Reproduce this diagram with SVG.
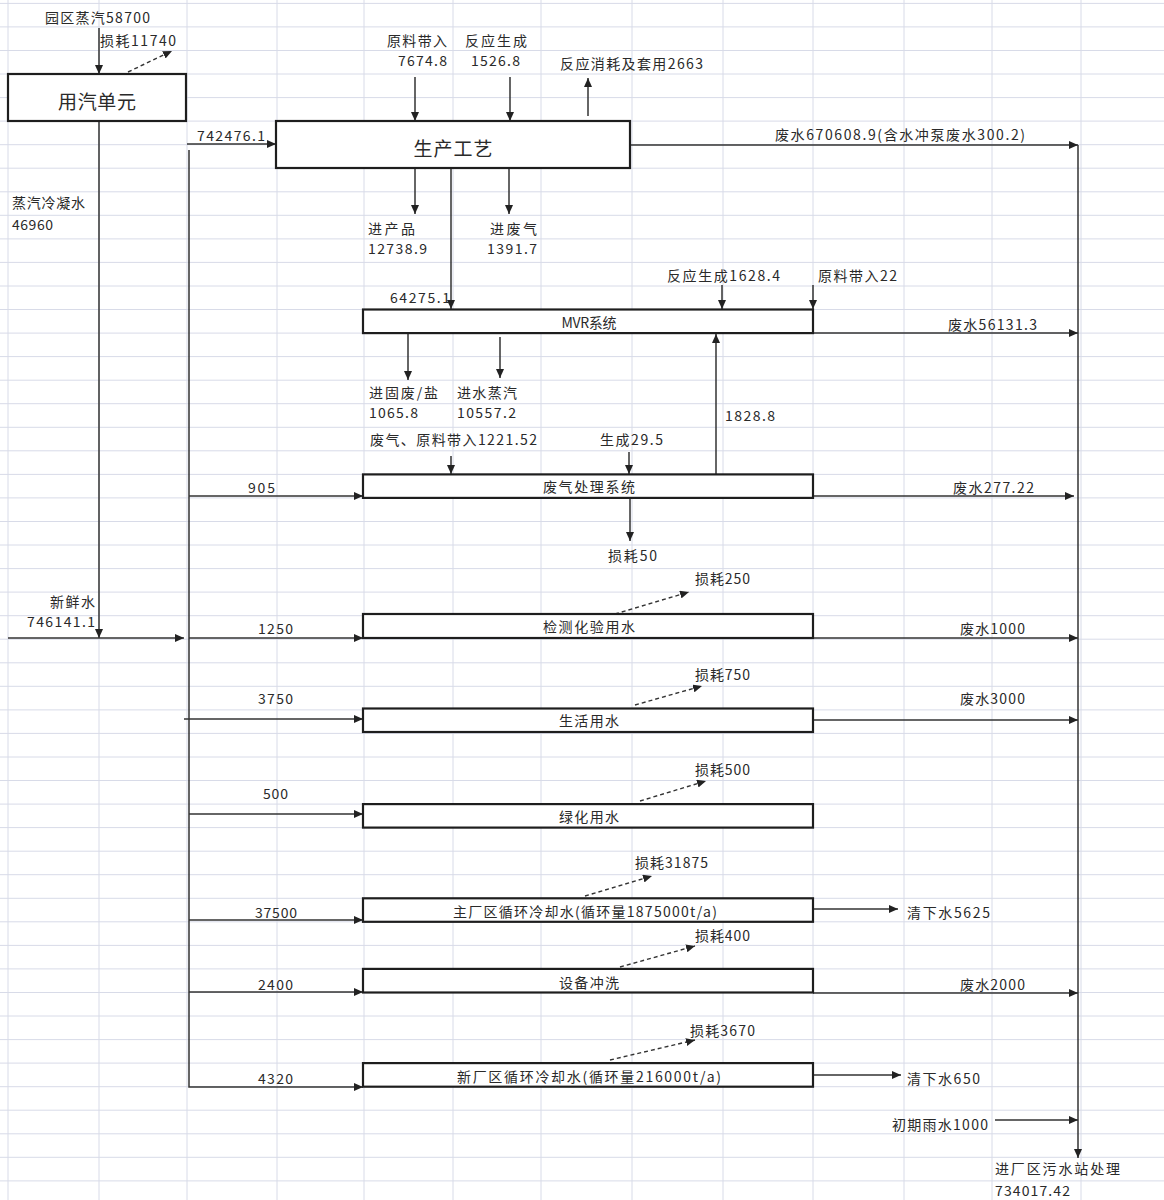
<svg xmlns="http://www.w3.org/2000/svg" width="1164" height="1200" viewBox="0 0 1164 1200">
<style>
.grid{stroke:#d8dbe8;stroke-width:1;fill:none}
.box{fill:#fff;stroke:#1e1e1e;stroke-width:2.2}
.ln{stroke:#333;stroke-width:1.5;fill:none}
.dash{stroke:#333;stroke-width:1.4;fill:none;stroke-dasharray:4 3}
.t{font-family:"Noto Sans CJK SC","Noto Sans",sans-serif;font-size:14px;fill:#2a2a2a;dominant-baseline:central}
.bt{font-family:"Noto Sans CJK SC","Noto Sans",sans-serif;font-size:14px;fill:#2a2a2a;dominant-baseline:central;text-anchor:middle}
.big{font-size:19px}
</style>
<defs>
<marker id="ah" markerWidth="9" markerHeight="8" refX="9" refY="4" orient="auto" markerUnits="userSpaceOnUse"><path d="M0,0 L9,4 L0,8 z" fill="#222"/></marker>
</defs>
<rect x="0" y="0" width="1164" height="1200" fill="#fff"/>
<g id="grid" class="grid">
<path d="M0 3.4H1164M0 26.9H1164M0 50.5H1164M0 74H1164M0 97.6H1164M0 121.1H1164M0 144.7H1164M0 168.2H1164M0 191.8H1164M0 215.3H1164M0 238.9H1164M0 262.4H1164M0 286H1164M0 309.5H1164M0 333.1H1164M0 356.6H1164M0 380.2H1164M0 403.7H1164M0 427.3H1164M0 450.8H1164M0 474.4H1164M0 497.9H1164M0 521.5H1164M0 545H1164M0 568.6H1164M0 592.1H1164M0 615.7H1164M0 639.2H1164M0 662.8H1164M0 686.3H1164M0 709.9H1164M0 733.4H1164M0 757H1164M0 780.5H1164M0 804.1H1164M0 827.6H1164M0 851.2H1164M0 874.7H1164M0 898.3H1164M0 921.8H1164M0 945.4H1164M0 968.9H1164M0 992.5H1164M0 1016H1164M0 1039.6H1164M0 1063.1H1164M0 1086.7H1164M0 1110.2H1164M0 1133.8H1164M0 1157.3H1164M0 1180.9H1164"/>
<path d="M8 0V1200M99 0V1200M187 0V1200M277 0V1200M364 0V1200M453 0V1200M541 0V1200M632 0V1200M723 0V1200M813 0V1200M904 0V1200M992 0V1200M1081 0V1200"/>
</g>
<g id="connectors">
<path class="ln" d="M99,28 V74" marker-end="url(#ah)"/>
<path class="dash" d="M128,72 L172,51" marker-end="url(#ah)"/>
<path class="ln" d="M99,121 V638" marker-end="url(#ah)"/>
<path class="ln" d="M8,638 H184" marker-end="url(#ah)"/>
<path class="ln" d="M189,150 V1087 H363" marker-end="url(#ah)"/>
<path class="ln" d="M187,144 H276" marker-end="url(#ah)"/>
<path class="ln" d="M189,496 H363" marker-end="url(#ah)"/>
<path class="ln" d="M189,638 H363" marker-end="url(#ah)"/>
<path class="ln" d="M184,719 H363" marker-end="url(#ah)"/>
<path class="ln" d="M189,814 H363" marker-end="url(#ah)"/>
<path class="ln" d="M189,920 H363" marker-end="url(#ah)"/>
<path class="ln" d="M189,992 H363" marker-end="url(#ah)"/>
<path class="ln" d="M415,77 V121" marker-end="url(#ah)"/>
<path class="ln" d="M510,77 V121" marker-end="url(#ah)"/>
<path class="ln" d="M588,116 V78" marker-end="url(#ah)"/>
<path class="ln" d="M630,145 H1078" marker-end="url(#ah)"/>
<path class="ln" d="M415,168 V214" marker-end="url(#ah)"/>
<path class="ln" d="M509,168 V214" marker-end="url(#ah)"/>
<path class="ln" d="M451,168 V309" marker-end="url(#ah)"/>
<path class="ln" d="M722,285 V309" marker-end="url(#ah)"/>
<path class="ln" d="M813,285 V309" marker-end="url(#ah)"/>
<path class="ln" d="M813,333 H1078" marker-end="url(#ah)"/>
<path class="ln" d="M408,333 V380" marker-end="url(#ah)"/>
<path class="ln" d="M500,337 V378" marker-end="url(#ah)"/>
<path class="ln" d="M716,474 V334" marker-end="url(#ah)"/>
<path class="ln" d="M451,456 V474" marker-end="url(#ah)"/>
<path class="ln" d="M629,452 V474" marker-end="url(#ah)"/>
<path class="ln" d="M813,496 H1074" marker-end="url(#ah)"/>
<path class="ln" d="M630,498 V541" marker-end="url(#ah)"/>
<path class="dash" d="M615,614 L689,592" marker-end="url(#ah)"/>
<path class="ln" d="M813,638 H1078" marker-end="url(#ah)"/>
<path class="dash" d="M635,705 L702,686" marker-end="url(#ah)"/>
<path class="ln" d="M813,720 H1078" marker-end="url(#ah)"/>
<path class="dash" d="M640,801 L706,781" marker-end="url(#ah)"/>
<path class="dash" d="M585,896 L652,876" marker-end="url(#ah)"/>
<path class="ln" d="M813,909 H898" marker-end="url(#ah)"/>
<path class="dash" d="M620,967 L695,946" marker-end="url(#ah)"/>
<path class="ln" d="M813,993 H1078" marker-end="url(#ah)"/>
<path class="dash" d="M610,1060 L695,1040" marker-end="url(#ah)"/>
<path class="ln" d="M813,1075 H901" marker-end="url(#ah)"/>
<path class="ln" d="M995,1120 H1078" marker-end="url(#ah)"/>
<path class="ln" d="M1078,145 V1158" marker-end="url(#ah)"/>
</g>
<g id="node-steam">
<rect class="box" x="8" y="74" width="178" height="47"/>
<text class="bt big" x="97" y="100" textLength="78">用汽单元</text>
</g>
<g id="node-process">
<rect class="box" x="276" y="121" width="354" height="47"/>
<text class="bt big" x="453" y="147" textLength="79">生产工艺</text>
</g>
<g id="node-mvr">
<rect class="box" x="363" y="309.5" width="450" height="23.6"/>
<text class="bt" x="589" y="322" textLength="55">MVR系统</text>
</g>
<g id="node-gas">
<rect class="box" x="363" y="474.4" width="450" height="23.5"/>
<text class="bt" x="589" y="486" textLength="92">废气处理系统</text>
</g>
<g id="node-lab">
<rect class="box" x="363" y="614" width="450" height="24"/>
<text class="bt" x="589" y="626" textLength="92">检测化验用水</text>
</g>
<g id="node-life">
<rect class="box" x="363" y="708.5" width="450" height="23.5"/>
<text class="bt" x="589" y="720" textLength="60">生活用水</text>
</g>
<g id="node-green">
<rect class="box" x="363" y="804.1" width="450" height="23.5"/>
<text class="bt" x="589" y="816" textLength="60">绿化用水</text>
</g>
<g id="node-cool-main">
<rect class="box" x="363" y="898.3" width="450" height="23.5"/>
<text class="bt" x="585" y="911" textLength="264">主厂区循环冷却水(循环量1875000t/a)</text>
</g>
<g id="node-wash">
<rect class="box" x="363" y="968.9" width="450" height="23.6"/>
<text class="bt" x="589" y="982" textLength="60">设备冲洗</text>
</g>
<g id="node-cool-new">
<rect class="box" x="363" y="1063.1" width="450" height="23.6"/>
<text class="bt" x="589" y="1076" textLength="264">新厂区循环冷却水(循环量216000t/a)</text>
</g>
<g id="labels">
<text class="t" x="45" y="17" textLength="105">园区蒸汽58700</text>
<text class="t" x="100" y="40" textLength="76">损耗11740</text>
<text class="t" x="197" y="135" textLength="68">742476.1</text>
<text class="t" x="387" y="40" textLength="60">原料带入</text>
<text class="t" x="398" y="60" textLength="49">7674.8</text>
<text class="t" x="465" y="40" textLength="62">反应生成</text>
<text class="t" x="471" y="60" textLength="49">1526.8</text>
<text class="t" x="560" y="63" textLength="143">反应消耗及套用2663</text>
<text class="t" x="775" y="134" textLength="250">废水670608.9(含水冲泵废水300.2)</text>
<text class="t" x="12" y="202" textLength="73">蒸汽冷凝水</text>
<text class="t" x="12" y="224" textLength="41">46960</text>
<text class="t" x="368" y="228" textLength="47">进产品</text>
<text class="t" x="368" y="248" textLength="59">12738.9</text>
<text class="t" x="490" y="228" textLength="47">进废气</text>
<text class="t" x="487" y="248" textLength="50">1391.7</text>
<text class="t" x="667" y="275" textLength="113">反应生成1628.4</text>
<text class="t" x="818" y="275" textLength="79">原料带入22</text>
<text class="t" x="390" y="297" textLength="60">64275.1</text>
<text class="t" x="948" y="324" textLength="89">废水56131.3</text>
<text class="t" x="369" y="392" textLength="69">进固废/盐</text>
<text class="t" x="369" y="412" textLength="49">1065.8</text>
<text class="t" x="457" y="392" textLength="60">进水蒸汽</text>
<text class="t" x="457" y="412" textLength="59">10557.2</text>
<text class="t" x="725" y="415" textLength="50">1828.8</text>
<text class="t" x="370" y="439" textLength="167">废气、原料带入1221.52</text>
<text class="t" x="600" y="439" textLength="63">生成29.5</text>
<text class="t" x="248" y="487" textLength="27">905</text>
<text class="t" x="953" y="487" textLength="81">废水277.22</text>
<text class="t" x="608" y="555" textLength="49">损耗50</text>
<text class="t" x="695" y="578" textLength="55">损耗250</text>
<text class="t" x="50" y="601" textLength="45">新鲜水</text>
<text class="t" x="27" y="621" textLength="68">746141.1</text>
<text class="t" x="258" y="628" textLength="35">1250</text>
<text class="t" x="960" y="628" textLength="65">废水1000</text>
<text class="t" x="695" y="674" textLength="55">损耗750</text>
<text class="t" x="258" y="698" textLength="35">3750</text>
<text class="t" x="960" y="698" textLength="65">废水3000</text>
<text class="t" x="695" y="769" textLength="55">损耗500</text>
<text class="t" x="263" y="793" textLength="25">500</text>
<text class="t" x="635" y="862" textLength="73">损耗31875</text>
<text class="t" x="255" y="912" textLength="42">37500</text>
<text class="t" x="907" y="912" textLength="83">清下水5625</text>
<text class="t" x="695" y="935" textLength="55">损耗400</text>
<text class="t" x="258" y="984" textLength="35">2400</text>
<text class="t" x="960" y="984" textLength="65">废水2000</text>
<text class="t" x="690" y="1030" textLength="65">损耗3670</text>
<text class="t" x="258" y="1078" textLength="35">4320</text>
<text class="t" x="907" y="1078" textLength="73">清下水650</text>
<text class="t" x="892" y="1124" textLength="96">初期雨水1000</text>
<text class="t" x="995" y="1168" textLength="125">进厂区污水站处理</text>
<text class="t" x="995" y="1190" textLength="75">734017.42</text>
</g>
</svg>
